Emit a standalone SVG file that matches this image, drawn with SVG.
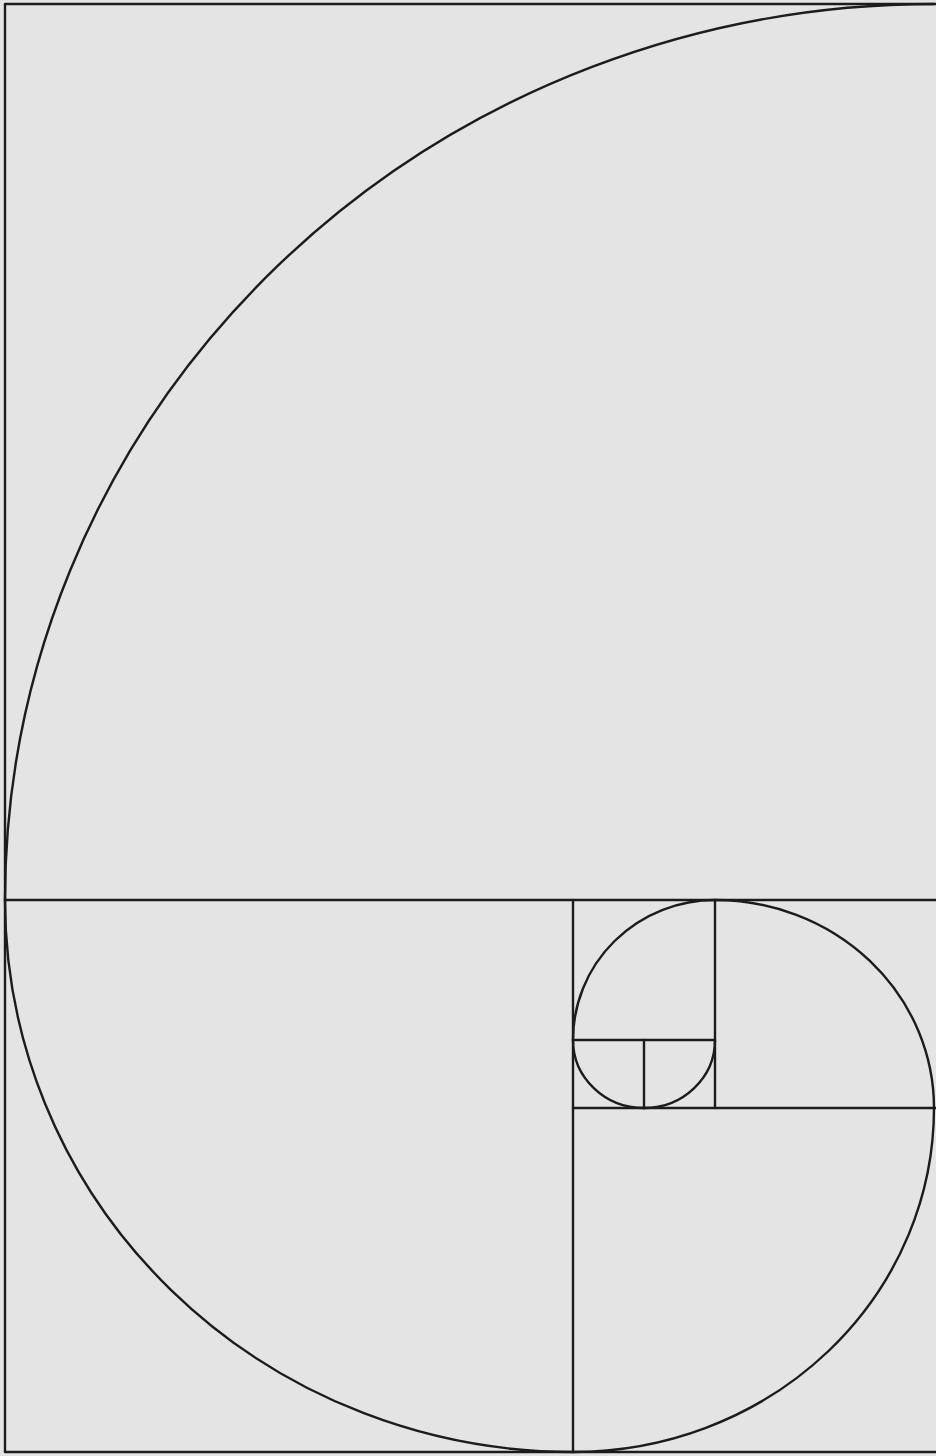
<svg xmlns="http://www.w3.org/2000/svg" width="936" height="1456" viewBox="0 0 936 1456">
<style>
.ln{fill:none;stroke:#1c1c1c;stroke-width:2.4;stroke-linecap:round;stroke-linejoin:round}
</style>
<rect x="0" y="0" width="936" height="1456" fill="#e4e4e4"/>
<g id="squares" class="ln">
<polyline points="940,4 5,4 5,1452 940,1452"/>
<line x1="5" y1="900" x2="940" y2="900"/>
<line x1="573" y1="900" x2="573" y2="1452"/>
<line x1="573" y1="1108" x2="940" y2="1108"/>
<line x1="715" y1="900" x2="715" y2="1108"/>
<line x1="573" y1="1040" x2="715" y2="1040"/>
<line x1="644" y1="1040" x2="644" y2="1108"/>
</g>
<g id="spiral" class="ln">
<path d="M5,900 A929,896 0 0 1 934,4"/>
<path d="M5,900 A568,552 0 0 0 573,1452"/>
<path d="M573,1452 A361,344 0 0 0 934,1108"/>
<path d="M934,1108 A219,208 0 0 0 715,900"/>
<path d="M715,900 A142,140 0 0 0 573,1040"/>
<path d="M573,1040 A71,68 0 0 0 644,1108"/>
<path d="M644,1108 A71,68 0 0 0 715,1040"/>
</g>
</svg>
